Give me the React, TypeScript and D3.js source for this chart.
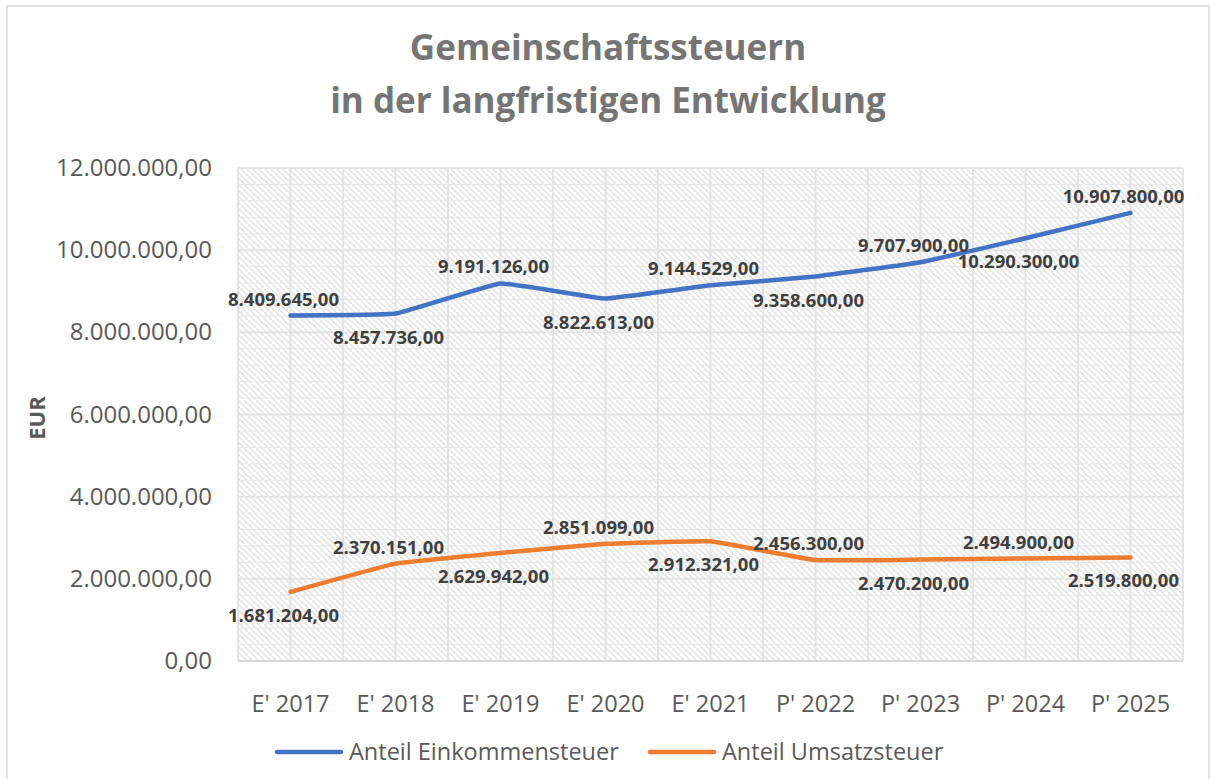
import React from 'react';
import * as d3 from 'd3';

const categories = ["E' 2017", "E' 2018", "E' 2019", "E' 2020", "E' 2021", "P' 2022", "P' 2023", "P' 2024", "P' 2025"];
const einkommen = [8409645, 8457736, 9191126, 8822613, 9144529, 9358600, 9707900, 10290300, 10907800];
const umsatz = [1681204, 2370151, 2629942, 2851099, 2912321, 2456300, 2470200, 2494900, 2519800];
const yTicks = [0, 2000000, 4000000, 6000000, 8000000, 10000000, 12000000];
const einkommenSide = ['above', 'below', 'above', 'below', 'above', 'below', 'above', 'below', 'above'];
const umsatzSide = ['below', 'above', 'below', 'above', 'below', 'above', 'below', 'above', 'below'];

const W = 1210;
const H = 779;
const plot = { left: 238, right: 1183, top: 168, bottom: 661 };
const FONT = "'Open Sans', 'DejaVu Sans', sans-serif";

const fmt = (v: number) => {
  const s = d3.format(',.2f')(v);
  return s.replace(/,/g, 'X').replace('.', ',').replace(/X/g, '.');
};

const App = () => {
  const x = d3.scalePoint<string>()
    .domain(categories)
    .range([plot.left, plot.right])
    .padding(0.5);
  const step = x.step();

  const y = d3.scaleLinear()
    .domain([0, 12000000])
    .range([plot.bottom, plot.top]);

  // Excel "smoothed line" look, kept mild
  const line = d3.line<number>()
    .x((_, i) => x(categories[i])!)
    .y(d => y(d))
    .curve(d3.curveCardinal.tension(0.75));

  const minorY = d3.range(0, 12000001, 400000);
  const vLines = d3.range(0, categories.length * 2 + 1).map(i => plot.left + (i * step) / 2);

  const series = [
    { name: 'Anteil Einkommensteuer', values: einkommen, color: '#4472C4', side: einkommenSide },
    { name: 'Anteil Umsatzsteuer', values: umsatz, color: '#ED7D31', side: umsatzSide },
  ];

  const t = 6;

  return (
    <svg width={W} height={H} style={{ position: 'absolute', left: 0, top: 0, background: '#fff' }}>
      <defs>
        <pattern id="hatch" width={t} height={t} patternUnits="userSpaceOnUse">
          <rect width={t} height={t} fill="#fff" />
          <path d={`M0,0L${t},${t}M${-t / 2},${t / 2}L${t / 2},${t * 1.5}M${t / 2},${-t / 2}L${t * 1.5},${t / 2}`}
            stroke="#e2e2e2" strokeWidth={1.5} />
        </pattern>
      </defs>
      <rect x={7} y={6} width={1202} height={790} fill="#fff" stroke="#d9d9d9" strokeWidth={1.5} />

      <text x={608} y={60} textAnchor="middle" fontFamily={FONT} fontWeight="bold" fontSize={35} fill="#757575">
        Gemeinschaftssteuern
      </text>
      <text x={608} y={113} textAnchor="middle" fontFamily={FONT} fontWeight="bold" fontSize={35} fill="#757575">
        in der langfristigen Entwicklung
      </text>

      <rect x={plot.left} y={plot.top} width={plot.right - plot.left} height={plot.bottom - plot.top} fill="url(#hatch)" />

      {minorY.map(v => (
        <line key={'m' + v} x1={plot.left} x2={plot.right} y1={y(v)} y2={y(v)} stroke="#e8e8e8" strokeWidth={1} />
      ))}
      {vLines.map((vx, i) => (
        <line key={'v' + i} x1={vx} x2={vx} y1={plot.top} y2={plot.bottom} stroke="#e4e4e4" strokeWidth={2} />
      ))}
      {yTicks.map(v => (
        <line key={'g' + v} x1={plot.left} x2={plot.right} y1={y(v)} y2={y(v)} stroke="#e4e4e4" strokeWidth={2} />
      ))}
      <line x1={plot.left} x2={plot.right} y1={y(0)} y2={y(0)} stroke="#d9d9d9" strokeWidth={2} />

      {yTicks.map(v => (
        <text key={'t' + v} x={212} y={y(v) + 8} textAnchor="end" fontFamily={FONT} fontSize={24} fill="#595959">
          {fmt(v)}
        </text>
      ))}
      <text transform={`translate(45,418) rotate(-90)`} textAnchor="middle" fontFamily={FONT} fontWeight="bold" fontSize={22} fill="#595959">
        EUR
      </text>

      {categories.map(c => (
        <text key={c} x={x(c)} y={712} textAnchor="middle" fontFamily={FONT} fontSize={23.5} fill="#595959">
          {c}
        </text>
      ))}

      {series.map(s => (
        <path key={s.name} d={line(s.values)!} fill="none" stroke={s.color} strokeWidth={4.5} strokeLinecap="round" strokeLinejoin="round" />
      ))}

      {series.map(s =>
        s.values.map((v, i) => (
          <text
            key={s.name + i}
            x={x(categories[i])! - 7}
            y={y(v) + (s.side[i] === 'above' ? -10 : 30)}
            textAnchor="middle"
            fontFamily={FONT}
            fontWeight="bold"
            fontSize={18.5}
            fill="#404040"
          >
            {fmt(v)}
          </text>
        ))
      )}

      {series.map((s, i) => {
        const lx = i === 0 ? 277 : 650;
        return (
          <g key={'l' + s.name}>
            <line x1={lx} x2={lx + 64} y1={752} y2={752} stroke={s.color} strokeWidth={4.5} strokeLinecap="round" />
            <text x={lx + 72} y={760} fontFamily={FONT} fontSize={23.5} fill="#595959">
              {s.name}
            </text>
          </g>
        );
      })}
    </svg>
  );
};

export default App;
